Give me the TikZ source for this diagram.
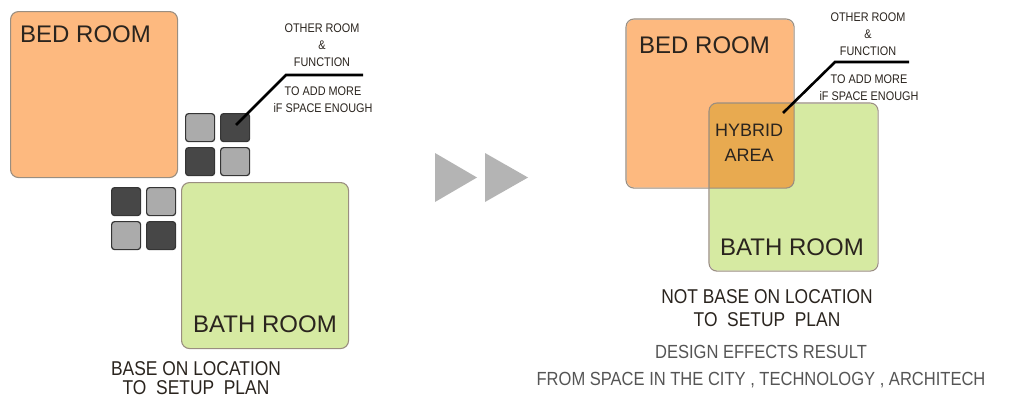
\documentclass[tikz,border=0pt]{standalone}
\usepackage{fontspec}
\setmainfont{Liberation Sans}
\newfontfamily\cond[FakeStretch=0.87]{Liberation Sans}
\definecolor{bedfill}{HTML}{FDB97F}
\definecolor{bathfill}{HTML}{D6EAA2}
\definecolor{hybfill}{HTML}{E8AA50}
\definecolor{roomedge}{HTML}{9A8E80}
\definecolor{lightsq}{HTML}{ABABAB}
\definecolor{darksq}{HTML}{474747}
\definecolor{sqedge}{HTML}{353535}
\definecolor{txt}{HTML}{2A241E}
\definecolor{graytxt}{HTML}{555555}
\definecolor{arrowgray}{HTML}{B4B4B4}
\tikzset{
  room/.style={rectangle, rounded corners=8pt, draw=roomedge, line width=1.1pt, inner sep=0pt, anchor=north west},
  sqbox/.style={rectangle, rounded corners=3pt, draw=sqedge, line width=1.2pt, inner sep=0pt, minimum width=29pt, minimum height=28pt, anchor=north west},
  lightbox/.style={sqbox, fill=lightsq},
  darkbox/.style={sqbox, fill=darksq},
  biglabel/.style={font=\fontsize{24}{26}\selectfont, text=txt, inner sep=0pt},
  hyblabel/.style={font=\fontsize{18}{25}\selectfont, text=txt, inner sep=0pt, align=center},
  smalltxt/.style={font=\cond\fontsize{12.5}{17}\selectfont, text=txt, inner sep=0pt, align=center},
  caption/.style={font=\cond\fontsize{20}{23}\selectfont, text=txt, inner sep=0pt, align=center},
  graycap/.style={font=\cond\fontsize{19}{27}\selectfont, text=graytxt, inner sep=0pt, align=center},
  leader/.style={line width=2.6pt, black, line cap=butt},
  playtri/.style={fill=arrowgray, draw=none}
}
\begin{document}
\begin{tikzpicture}[x=1pt,y=-1pt]
\useasboundingbox (0,0) rectangle (1016,399);
% ---------- left diagram ----------
\node[room, fill=bedfill, minimum width=167pt, minimum height=166pt] (lbed) at (10,11) {};
\node[room, fill=bathfill, minimum width=167pt, minimum height=166pt] (lbath) at (181,182) {};
\node[biglabel, anchor=base west] (lbedt) at (20,42) {BED ROOM};
\node[biglabel, anchor=base west] (lbatht) at (193,332) {BATH ROOM};
% small squares, upper group
\node[lightbox] (ua) at (185,113) {};
\node[darkbox]  (ub) at (220,113) {};
\node[darkbox]  (uc) at (185,147) {};
\node[lightbox] (ud) at (220,147) {};
% small squares, lower group
\node[darkbox]  (la) at (111,187) {};
\node[lightbox] (lb) at (146,187) {};
\node[lightbox] (lc) at (111,221) {};
\node[darkbox]  (ld) at (146,221) {};
% annotation
\node[smalltxt] (lother) at (322,45) {OTHER ROOM\\\&\\FUNCTION};
\node[smalltxt] (ladd) at (323,99.5) {TO ADD MORE\\iF SPACE ENOUGH};
\coordinate (lknee) at (286,75);
\coordinate (lend) at (363,75);
\coordinate (ltip) at (236,125);
\draw[leader] (ltip) -- (lknee) -- (lend);
\node[caption, font=\cond\fontsize{20}{19}\selectfont] (lcap) at (196,378) {BASE ON LOCATION\\TO\ \ SETUP\ \ PLAN};
% ---------- arrows ----------
\coordinate (t1a) at (435,153);
\coordinate (t1b) at (435,202);
\coordinate (t1c) at (477,177.5);
\coordinate (t2a) at (485,153);
\coordinate (t2b) at (485,202);
\coordinate (t2c) at (528,177.5);
\fill[playtri] (t1a) -- (t1c) -- (t1b) -- cycle;
\fill[playtri] (t2a) -- (t2c) -- (t2b) -- cycle;
% ---------- right diagram ----------
\node[room, fill=bedfill, draw=none, minimum width=167pt, minimum height=168pt] (rbed) at (626,19) {};
\node[room, fill=bathfill, draw=none, minimum width=168pt, minimum height=167pt] (rbath) at (709,103) {};
\begin{scope}
  \clip[rounded corners=8pt] (rbed.north west) rectangle (rbed.south east);
  \fill[hybfill, rounded corners=8pt] (rbath.north west) rectangle (rbath.south east);
\end{scope}
\draw[roomedge, line width=1.1pt, rounded corners=8pt] (rbed.north west) rectangle (rbed.south east);
\draw[roomedge, line width=1.1pt, rounded corners=8pt] (rbath.north west) rectangle (rbath.south east);
\node[biglabel, anchor=base west] (rbedt) at (639,53) {BED ROOM};
\node[biglabel, anchor=base west] (rbatht) at (720,255) {BATH ROOM};
\node[hyblabel] (hyb) at (749,142.5) {HYBRID\\AREA};
\node[smalltxt] (rother) at (868,34) {OTHER ROOM\\\&\\FUNCTION};
\node[smalltxt] (radd) at (869,87.5) {TO ADD MORE\\iF SPACE ENOUGH};
\coordinate (rknee) at (835,62);
\coordinate (rend) at (909,62);
\coordinate (rtip) at (783,113);
\draw[leader] (rtip) -- (rknee) -- (rend);
\node[caption] (rcap) at (767,308) {NOT BASE ON LOCATION\\TO\ \ SETUP\ \ PLAN};
\node[graycap] (rcap2) at (761,367) {DESIGN EFFECTS RESULT\\FROM SPACE IN THE CITY , TECHNOLOGY , ARCHITECH};
\end{tikzpicture}
\end{document}
